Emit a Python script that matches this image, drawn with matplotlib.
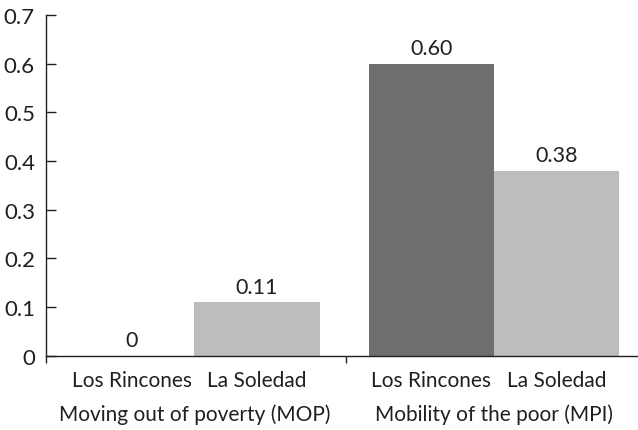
import numpy as np
import matplotlib
matplotlib.use('Agg')
import matplotlib.pyplot as plt
from matplotlib.transforms import blended_transform_factory

groups = ['Moving out of poverty (MOP)', 'Mobility of the poor (MPI)']
places = ['Los Rincones', 'La Soledad']
mop = [0.0, 0.11]
mpi = [0.60, 0.38]
value_labels = ['0', '0.11', '0.60', '0.38']

plt.rcParams.update({
    "font.family": ["Lato", "DejaVu Sans"],
    "font.size": 15,
    "text.color": "#231f20",
    "xtick.color": "#231f20",
    "ytick.color": "#231f20",
})

DARK = '#6d6e70'
LIGHT = '#bcbdbf'
INK = '#231f20'

fig = plt.figure(figsize=(6.38, 4.31), dpi=100)
ax = fig.add_axes([46 / 638, 74.3 / 431, 591 / 638, 340.7 / 431])

gap = 1.392
pos = np.array([0, 1, 1 + gap, 2 + gap])
vals = mop + mpi
colors = [DARK, LIGHT, DARK, LIGHT]
ax.bar(pos, vals, width=1.0, color=colors, edgecolor='none')

for x, v, lab in zip(pos, vals, value_labels):
    ax.annotate(lab, (x, v), xytext=(0, 4), textcoords='offset points',
                ha='center', va='bottom', fontsize=15.5)

ax.set_xlim(-0.686, 4.036)
ax.set_ylim(0, 0.7)
ax.set_yticks(np.arange(0, 0.71, 0.1))
ax.set_yticklabels(['0'] + [f'{t:.1f}' for t in np.arange(0.1, 0.71, 0.1)])
ax.tick_params(axis='y', direction='in', length=7, width=1, pad=8, labelsize=16)

ax.set_xticks(pos)
ax.set_xticklabels(places * 2)
ax.tick_params(axis='x', which='major', length=0, pad=10, labelsize=15)
ax.set_xticks([-0.686, 1.708], minor=True)
ax.tick_params(axis='x', which='minor', direction='out', length=5, width=1)

trans = blended_transform_factory(ax.transData, ax.transAxes)
centers = [pos[0:2].mean(), pos[2:4].mean()]
for c, g in zip(centers, groups):
    ax.text(c, -0.17, g, transform=trans, ha='center', va='center', fontsize=15)

for s in ['top', 'right']:
    ax.spines[s].set_visible(False)
for s in ['left', 'bottom']:
    ax.spines[s].set_color(INK)
    ax.spines[s].set_linewidth(1)

fig.savefig('out.png', dpi=100)
